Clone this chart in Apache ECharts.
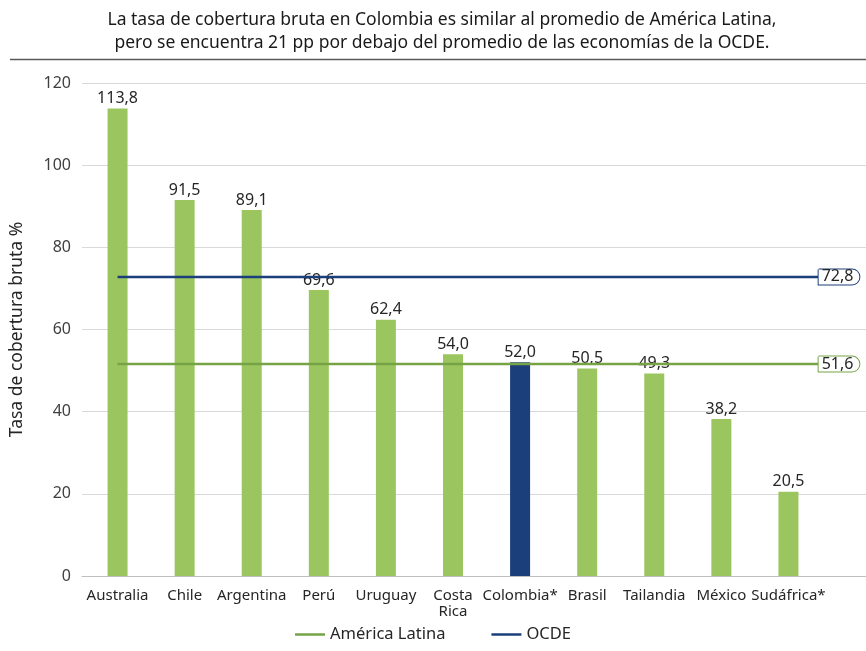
<!DOCTYPE html>
<html>
<head>
<meta charset="utf-8">
<script src="https://cdn.jsdelivr.net/npm/echarts@6/dist/echarts.min.js"></script>
<style>
  html, body { margin: 0; padding: 0; background: #fff; }
  #chart { width: 866px; height: 651px; }
</style>
</head>
<body>
<div id="chart"></div>
<script>
// datos
const paises = ['Australia', 'Chile', 'Argentina', 'Perú', 'Uruguay', 'Costa\nRica', 'Colombia*', 'Brasil', 'Tailandia', 'México', 'Sudáfrica*']
const tasas = [113.8, 91.5, 89.1, 69.6, 62.4, 54.0, 52.0, 50.5, 49.3, 38.2, 20.5]
const promedioAL = 51.6
const promedioOCDE = 72.8
const ticksY = [0, 20, 40, 60, 80, 100, 120]

const verde = '#9BC65F'
const verdeLinea = '#77A347'
const azul = '#1B3F7A'
const fuente = 'Noto Sans'
const fmt = v => v.toFixed(1).replace('.', ',')

const chart = echarts.init(document.getElementById('chart'))

const lineaPromedio = (name, value, color) => ({
  name,
  type: 'line',
  xAxisIndex: 1,
  yAxisIndex: 0,
  data: [[0, value], [10.45, value]],
  symbol: 'none',
  lineStyle: { color, width: 2.5 },
  itemStyle: { color },
  z: 5,
  endLabel: {
    show: true,
    formatter: () => fmt(value),
    distance: 0,
    color: '#262626',
    fontFamily: fuente,
    fontSize: 16,
    backgroundColor: '#fff',
    borderColor: color,
    borderWidth: 1,
    borderRadius: [0, 10, 10, 0],
    padding: [0, 6, -1, 3]
  }
})

chart.setOption({
  textStyle: { fontFamily: fuente },
  title: {
    text: 'La tasa de cobertura bruta en Colombia es similar al promedio de América Latina,\npero se encuentra 21 pp por debajo del promedio de las economías de la OCDE.',
    left: 437,
    textAlign: 'center',
    top: 4,
    textStyle: { fontFamily: fuente, fontSize: 17.5, fontWeight: 'normal', color: '#1a1a1a', lineHeight: 23 }
  },
  graphic: [{
    type: 'line',
    shape: { x1: 10, y1: 59.5, x2: 866, y2: 59.5 },
    style: { stroke: '#595959', lineWidth: 1.5 }
  }],
  legend: {
    data: [
      { name: 'América Latina', icon: 'rect' },
      { name: 'OCDE', icon: 'rect' }
    ],
    bottom: 3,
    left: 'center',
    itemWidth: 30,
    itemHeight: 2.5,
    itemGap: 46,
    textStyle: { fontFamily: fuente, fontSize: 16.5, color: '#262626' }
  },
  grid: [
    { left: 82, right: 44, top: 83, bottom: 75 },
    { left: 82, right: 0, top: 83, bottom: 75 }
  ],
  xAxis: [
    {
      type: 'category',
      gridIndex: 0,
      data: paises,
      axisLine: { show: false },
      axisTick: { show: false },
      axisLabel: { interval: 0, color: '#262626', fontSize: 15, fontFamily: fuente, margin: 12, lineHeight: 16 }
    },
    { type: 'value', gridIndex: 0, min: -0.5, max: 10.5, show: false },
    {
      type: 'value', gridIndex: 1, min: 0, max: 1,
      axisLine: { show: true, lineStyle: { color: '#BFBFBF', width: 1 } },
      axisTick: { show: false }, axisLabel: { show: false }, splitLine: { show: false }
    }
  ],
  yAxis: [
    {
      type: 'value',
      gridIndex: 0,
      min: ticksY[0],
      max: ticksY[ticksY.length - 1],
      interval: 20,
      name: 'Tasa de cobertura bruta %',
      nameLocation: 'middle',
      nameGap: 58,
      nameTextStyle: { color: '#262626', fontSize: 17.5, fontFamily: fuente },
      axisLine: { show: false },
      axisTick: { show: false },
      splitLine: { show: false },
      axisLabel: { color: '#404040', fontSize: 16, fontFamily: fuente, margin: 13 }
    },
    {
      type: 'value',
      gridIndex: 1,
      min: 0, max: 120, interval: 20,
      axisLine: { show: false }, axisTick: { show: false }, axisLabel: { show: false },
      splitLine: { lineStyle: { color: '#D9D9D9', width: 1 } }
    }
  ],
  series: [
    {
      name: 'Tasa',
      type: 'bar',
      xAxisIndex: 0,
      yAxisIndex: 0,
      barWidth: 20,
      data: tasas.map((v, i) => ({
        value: v,
        itemStyle: { color: paises[i] === 'Colombia*' ? azul : verde }
      })),
      label: {
        show: true,
        position: 'top',
        distance: 2,
        formatter: p => fmt(p.value),
        color: '#262626',
        fontSize: 16,
        fontFamily: fuente
      },
      z: 2
    },
    lineaPromedio('América Latina', promedioAL, verdeLinea),
    lineaPromedio('OCDE', promedioOCDE, azul)
  ]
})
</script>
</body>
</html>
